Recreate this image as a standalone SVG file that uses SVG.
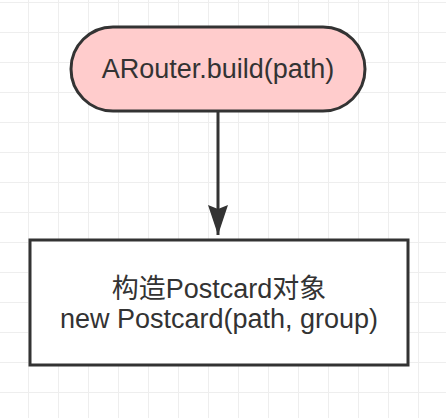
<svg xmlns="http://www.w3.org/2000/svg" width="446" height="418" viewBox="0 0 446 418">
  <defs>
    <pattern id="grid" patternUnits="userSpaceOnUse" x="-1" y="2" width="30" height="30">
      <path d="M0 0 H30 M30 0 V30" fill="none" stroke="#eeeeee" stroke-width="2"/>
    </pattern>
    <marker id="arrow" markerUnits="userSpaceOnUse" markerWidth="30" markerHeight="20" refX="30" refY="10" orient="auto" viewBox="0 0 30 20">
      <path d="M0 0 L30 10 L0 20 L4 10 Z" fill="#333333"/>
    </marker>
  </defs>
  <style>
    .node { stroke: #333333; stroke-width: 3; }
    .label { font-family: "Liberation Sans", "Noto Sans CJK SC", sans-serif; font-size: 27px; fill: #333333; text-anchor: middle; }
    .edge { fill: none; stroke: #333333; stroke-width: 3; }
  </style>
  <rect width="446" height="418" fill="#ffffff"/>
  <rect width="446" height="418" fill="url(#grid)"/>
  <g id="connectors">
    <path class="edge" d="M218 111 V235" marker-end="url(#arrow)"/>
  </g>
  <g id="node-build">
    <rect class="node" x="71" y="27" width="294" height="84" rx="42" ry="42" fill="#ffcccc"/>
    <text class="label" x="218" y="78">ARouter.build(path)</text>
  </g>
  <g id="node-postcard">
    <rect class="node" x="30" y="240" width="378" height="125" fill="#ffffff"/>
    <text class="label" x="219" y="298">构造Postcard对象</text>
    <text class="label" x="219" y="328">new Postcard(path, group)</text>
  </g>
</svg>
